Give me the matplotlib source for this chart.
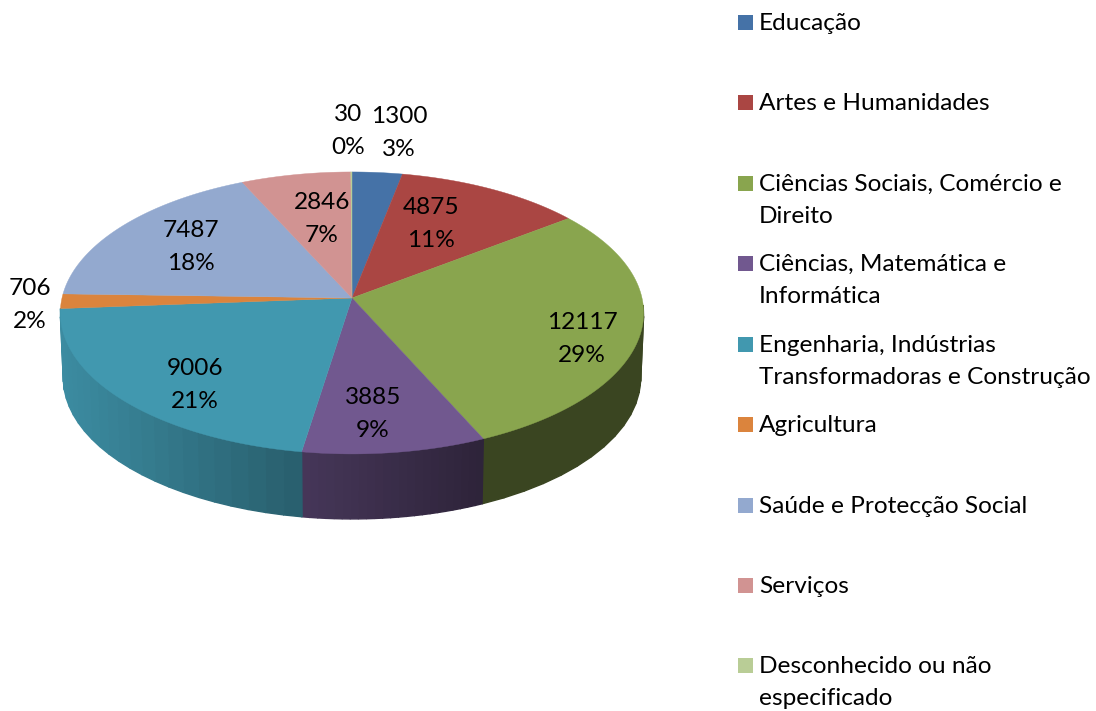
# Distribuição por área de educação - pizza 3D em perspectiva
import numpy as np
import matplotlib
matplotlib.use('Agg')
import matplotlib.pyplot as plt
from matplotlib.colors import to_rgb

plt.rcParams['font.family'] = ['Lato', 'DejaVu Sans']

categorias = ['Educação', 'Artes e Humanidades', 'Ciências Sociais, Comércio e\nDireito',
              'Ciências, Matemática e\nInformática', 'Engenharia, Indústrias\nTransformadoras e Construção',
              'Agricultura', 'Saúde e Protecção Social', 'Serviços', 'Desconhecido ou não\nespecificado']
valores = [1300, 4875, 12117, 3885, 9006, 706, 7487, 2846, 30]
percentagens = [3, 11, 29, 9, 21, 2, 18, 7, 0]
cores = ['#4572A7', '#AA4643', '#89A54E', '#71588F', '#4198AF', '#DB843D', '#93A9CF', '#D19392', '#B9CD96']

# posicao dos rotulos e da legenda, em pixels da imagem
rotulos_xy = [(399, 133), (431, 224), (582, 339), (373, 414), (195, 385), (30, 305), (191, 247), (322, 219), (348, 131)]
legenda_y = [23, 103, 184, 264, 345, 425, 506, 586, 666]

# sombra lateral (esquerda, direita) de cada fatia
sombra = [(.5, .5), (.5, .5), (.42, .42), (.62, .40), (.92, .62), (.9, .9), (.5, .5), (.5, .5), (.5, .5)]

CX, CY = 352, 298
RX, RY = 290, 139.4
K = 0.106
ALTURA = 65


def borda(ang, desce=0):
    # ang em radianos, sentido horario a partir do topo
    xx = np.sin(ang)
    yy = np.cos(ang)
    esc = 1 - 0.01 * (desce > 0)
    return CX + esc * RX * xx / (1 + K * yy), CY - RY * yy / (1 + K * yy) + desce


fig = plt.figure(figsize=(10.96, 7.11), dpi=100)
ax = fig.add_axes([0, 0, 1, 1])
ax.set_xlim(0, 1096)
ax.set_ylim(711, 0)
ax.axis('off')

limites = 2 * np.pi * np.cumsum([0] + valores) / sum(valores)

# lateral primeiro
for i, cor in enumerate(cores):
    if categorias[i] == 'Agricultura':
        continue  # fica atras da fatia de engenharia
    angs = np.linspace(limites[i], limites[i + 1], 24)
    angs = angs[(angs > np.pi / 2) & (angs < 3 * np.pi / 2)]
    if len(angs) < 2:
        continue
    xs, _ = borda(angs)
    x0, x1 = xs.min(), xs.max()
    base = np.array(to_rgb(cor))
    for a, b in zip(angs[:-1], angs[1:]):
        xt, yt = borda(np.array([a, b]))
        xb, yb = borda(np.array([a, b]), ALTURA)
        f = np.interp((xt.mean() - x0) / max(x1 - x0, 1), [0, 1], sombra[i])
        ax.fill([xt[0], xt[1], xb[1], xb[0]], [yt[0], yt[1], yb[1], yb[0]],
                color=base * f, lw=1.0, zorder=1)

# tampo
for i, cor in enumerate(cores):
    angs = np.linspace(limites[i], limites[i + 1], 80)
    xs, ys = borda(angs)
    ax.fill(np.r_[CX, xs], np.r_[CY, ys], color=cor, lw=0.3, zorder=2)

# rotulos
for i, (x, y) in enumerate(rotulos_xy):
    ax.text(x, y, f'{valores[i]}\n{percentagens[i]}%', ha='center', va='center',
            fontsize=17.6, linespacing=1.65, color='black', zorder=3)

# legenda
for nome, cor, y in zip(categorias, cores, legenda_y):
    ax.add_patch(plt.Rectangle((738, y - 8), 15, 15, color=cor, lw=0))
    ax.text(759, y - 10, nome, ha='left', va='top', fontsize=17.6, linespacing=1.65, color='black')

fig.savefig('out.png', dpi=100)
